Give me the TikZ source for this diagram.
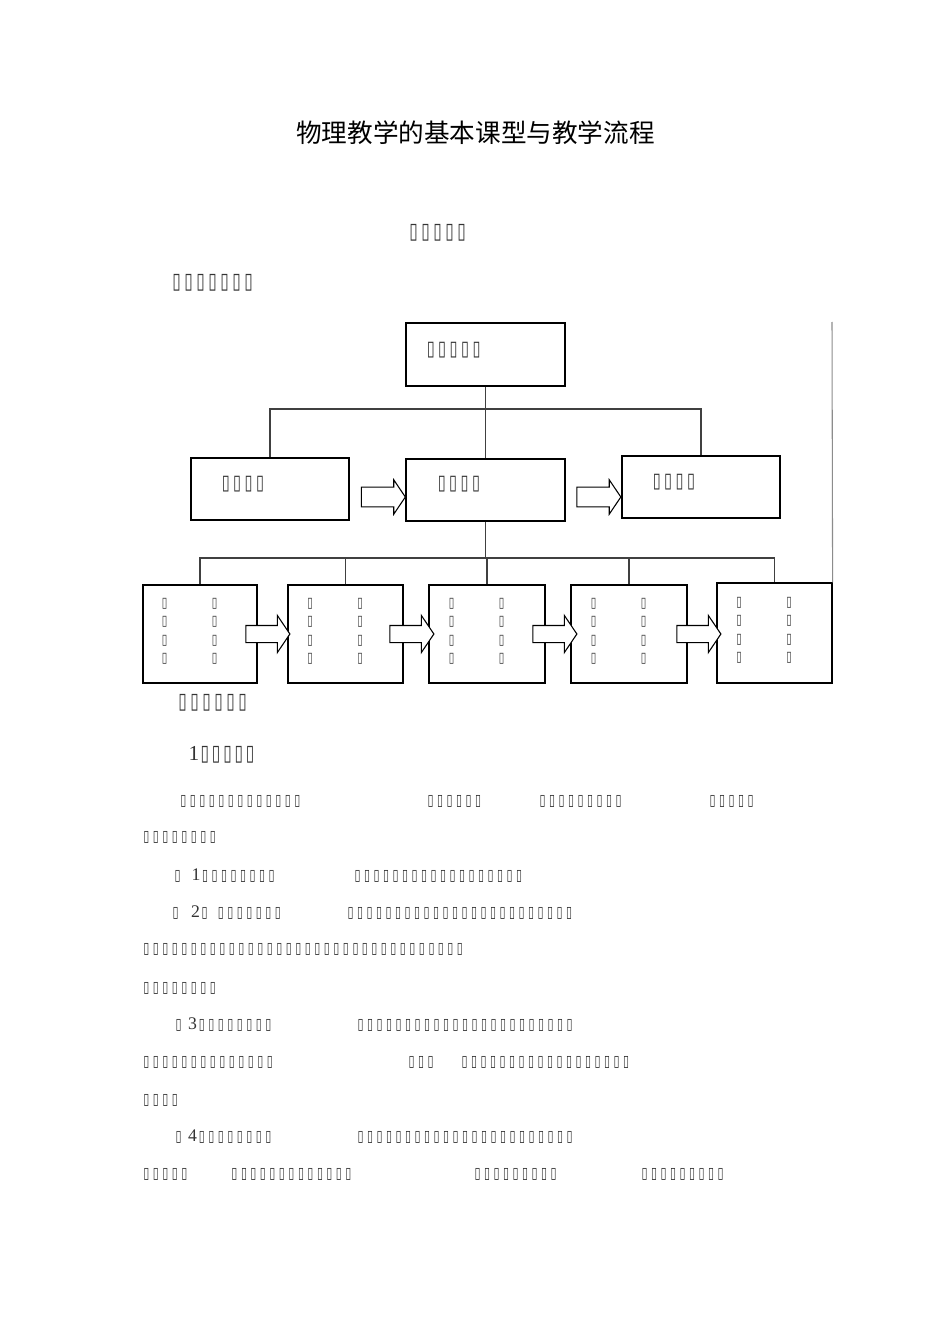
\documentclass[tikz,border=0pt]{standalone}
\usepackage{fontspec}
\usepackage{newunicodechar}
\usepackage{graphicx}
\usetikzlibrary{shapes.arrows}
\newfontfamily\dv{DejaVu Sans}
\newfontfamily\cjk{Noto Sans CJK SC}
\newfontfamily\lser{Liberation Serif}
\newlength\tfp
\setlength\tfp{7.1pt}
\newcommand\tfsx{0.7}
\newcommand\tfset[3]{\fontsize{#1}{#1}\selectfont\setlength\tfp{#2}\renewcommand\tfsx{#3}}
\newunicodechar{▯}{\makebox[\tfp][c]{\scalebox{\tfsx}[1]{\dv\char"25AF}}}
\newcommand\dg[1]{{\lser\fontsize{13.3pt}{13.3pt}\selectfont #1}}
\tikzset{
  tf/.style={anchor=west, inner sep=0pt, outer sep=0pt, text=black!80},
  bodyt/.style={tf, font=\tfset{11.7pt}{7.125pt}{0.7}},
  headt/.style={tf, font=\tfset{16.5pt}{9pt}{0.7}},
  labt/.style={tf, font=\tfset{15.5pt}{8.6pt}{0.7}},
  colt/.style={inner sep=0pt, outer sep=0pt, text=black!80, font=\tfset{10.7pt}{7pt}{0.7}},
  box/.style={draw, line width=0.9pt, inner sep=0pt, fill=white},
  heavy/.style={line width=1.25pt},
  link/.style={draw=black!75, line width=0.9pt},
  barrow/.style={single arrow, draw, line width=0.8pt, fill=white, inner xsep=0pt,
    minimum height=33pt, single arrow tip angle=112},
  barrowB/.style={barrow, inner ysep=6pt, minimum width=27pt, single arrow head extend=7.5pt},
  barrowT/.style={barrow, inner ysep=7pt, minimum width=25.5pt, single arrow head extend=5.5pt}
}
\begin{document}
\begin{tikzpicture}[x=0.75pt,y=-0.75pt]
\useasboundingbox[fill=white] (0,0) rectangle (950,1344);

% title and headings
\node[font=\cjk\fontsize{19.2pt}{19.2pt}\selectfont, inner sep=0pt] (title) at (475.5,133) {物理教学的基本课型与教学流程};
\node[headt] (h1) at (407.5,233) {▯▯▯▯▯};
\node[headt] (h2) at (170.5,283) {▯▯▯▯▯▯▯};

% top level boxes
\node[box, minimum width=119.25pt, minimum height=47.25pt] (top) at (485.5,354.5) {};
\node[box, minimum width=118.5pt, minimum height=46.5pt] (left) at (270,489) {};
\node[box, minimum width=119.25pt, minimum height=46.5pt] (mid) at (485.5,490) {};
\node[box, minimum width=118.5pt, minimum height=46.5pt] (right) at (701,487) {};

% bottom boxes
\node[box, minimum width=85.5pt, minimum height=73.5pt] (b1) at (200,634) {};
\node[box, minimum width=86.25pt, minimum height=73.5pt] (b2) at (345.5,634) {};
\node[box, minimum width=87pt, minimum height=73.5pt] (b3) at (487,634) {};
\node[box, minimum width=87pt, minimum height=73.5pt] (b4) at (629,634) {};
\node[box, minimum width=86.25pt, minimum height=75pt] (b5) at (774.5,633) {};

\foreach \n in {top,left,mid,right,b1,b2,b3,b4,b5}
  \draw[heavy] (\n.north east) -- (\n.south east) -- (\n.south west);

% connectors
\coordinate (bus1) at (485.5,409);
\coordinate (bus2) at (485.5,558);
\coordinate (rtop) at (832,322);
\draw[link] (top.south) -- (mid.north);
\draw[link] (left.north) |- (bus1) -| (right.north);
\draw[link] (mid.south) -- (bus2);
\draw[link] (b1.north) |- (bus2) -| (b5.north);
\draw[link] (b2.north) -- (b2.north |- bus2);
\draw[link] (b3.north) -- (b3.north |- bus2);
\draw[link] (b4.north) -- (b4.north |- bus2);
\draw[draw=black!45, line width=0.8pt] (rtop) -- (b5.north east);

% box labels
\node[labt] (ltop) at (425,350) {▯▯▯▯▯};
\node[labt] (lleft) at (220,484) {▯▯▯▯};
\node[labt] (lmid) at (436,484) {▯▯▯▯};
\node[labt] (lright) at (651,482) {▯▯▯▯};

\foreach \n in {b1,b2,b3,b4,b5}{
  \foreach \r in {0,1,2,3}{
    \node[colt] (\n-l\r) at ([xshift=-26.6pt, yshift={((1.5-\r)*18.5+2.5)*0.75}]\n.center) {▯};
    \node[colt] (\n-r\r) at ([xshift=10.9pt, yshift={((1.5-\r)*18.5+2.5)*0.75}]\n.center) {▯};
  }
}

% block arrows
\node[barrowT] (a1) at (380,497) {};
\node[barrowT] (a2) at (595.5,497) {};
\node[barrowB] (a3) at (265,634) {};
\node[barrowB] (a4) at (409,634) {};
\node[barrowB] (a5) at (552,634) {};
\node[barrowB] (a6) at (696,634) {};

% text below
\node[headt] (h3) at (176.5,703) {▯▯▯▯▯▯};
\node[tf, font=\tfset{16.5pt}{8.5pt}{0.7}] (h4) at (188.5,755) {{\lser\fontsize{16pt}{16pt}\selectfont 1}▯▯▯▯▯};

\node[bodyt] (p1a) at (178.75,801) {▯▯▯▯▯▯▯▯▯▯▯▯▯};
\node[bodyt] (p1b) at (425.75,801) {▯▯▯▯▯▯};
\node[bodyt] (p1c) at (537.75,801) {▯▯▯▯▯▯▯▯▯};
\node[bodyt] (p1d) at (707.75,801) {▯▯▯▯▯};
\node[bodyt] (p2) at (141.75,837) {▯▯▯▯▯▯▯▯};

\node[bodyt] (p3a) at (173,876) {▯\hspace{6.75pt}\dg{1}▯▯▯▯▯▯▯▯};
\node[bodyt] (p3b) at (352.75,876) {▯▯▯▯▯▯▯▯▯▯▯▯▯▯▯▯▯▯};

\node[bodyt] (p4a) at (171,913) {▯\hspace{7.9pt}\dg{2}▯\hspace{5.1pt}▯▯▯▯▯▯▯};
\node[bodyt] (p4b) at (345.75,913) {▯▯▯▯▯▯▯▯▯▯▯▯▯▯▯▯▯▯▯▯▯▯▯▯};
\node[bodyt] (p5) at (141.75,949) {▯▯▯▯▯▯▯▯▯▯▯▯▯▯▯▯▯▯▯▯▯▯▯▯▯▯▯▯▯▯▯▯▯▯};
\node[bodyt] (p6) at (141.75,988) {▯▯▯▯▯▯▯▯};

\node[bodyt] (p7a) at (174,1025) {▯\hspace{3.5pt}\dg{3}▯▯▯▯▯▯▯▯};
\node[bodyt] (p7b) at (355.75,1025) {▯▯▯▯▯▯▯▯▯▯▯▯▯▯▯▯▯▯▯▯▯▯▯};
\node[bodyt] (p8a) at (141.75,1062) {▯▯▯▯▯▯▯▯▯▯▯▯▯▯};
\node[bodyt] (p8b) at (406.75,1062) {▯▯▯};
\node[bodyt] (p8c) at (459.75,1062) {▯▯▯▯▯▯▯▯▯▯▯▯▯▯▯▯▯▯};
\node[bodyt] (p9) at (141.75,1100) {▯▯▯▯};

\node[bodyt] (p10a) at (174,1137) {▯\hspace{3.5pt}\dg{4}▯▯▯▯▯▯▯▯};
\node[bodyt] (p10b) at (355.75,1137) {▯▯▯▯▯▯▯▯▯▯▯▯▯▯▯▯▯▯▯▯▯▯▯};
\node[bodyt] (p11a) at (141.75,1174) {▯▯▯▯▯};
\node[bodyt] (p11b) at (229.75,1174) {▯▯▯▯▯▯▯▯▯▯▯▯▯};
\node[bodyt] (p11c) at (472.75,1174) {▯▯▯▯▯▯▯▯▯};
\node[bodyt] (p11d) at (639.75,1174) {▯▯▯▯▯▯▯▯▯};
\end{tikzpicture}
\end{document}
